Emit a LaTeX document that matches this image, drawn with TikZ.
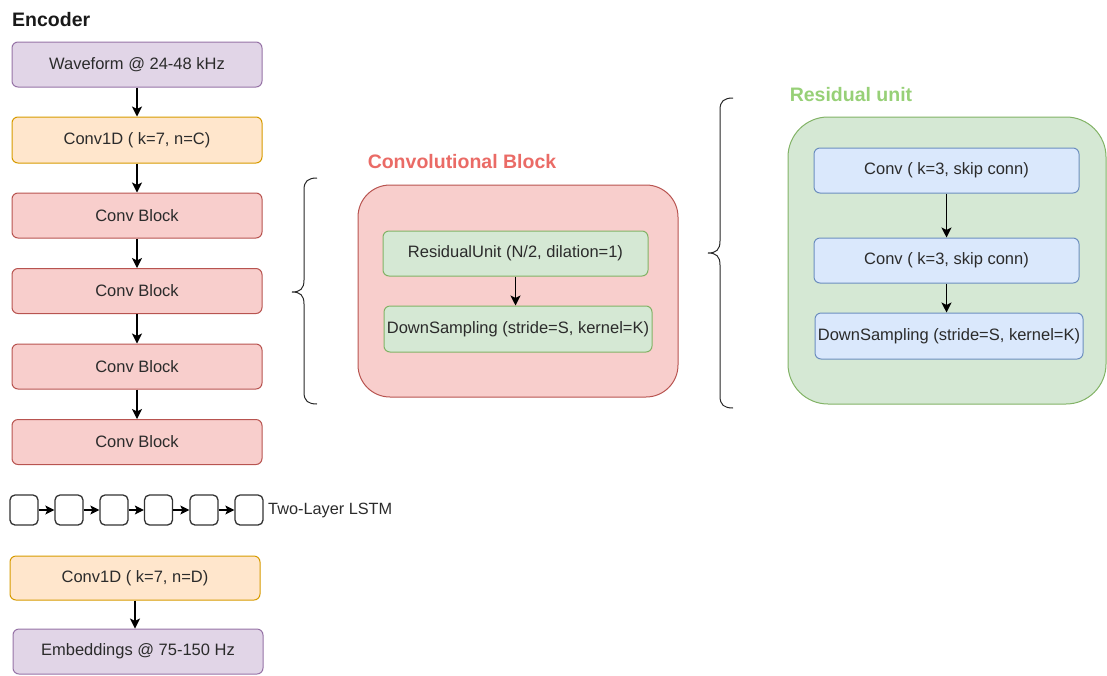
\documentclass[tikz,border=0pt]{standalone}
\usepackage{fontspec}
\setmainfont{Liberation Sans}
\usetikzlibrary{arrows.meta}
\definecolor{txt}{HTML}{2B2B2B}
\definecolor{purpleF}{HTML}{E1D5E7}\definecolor{purpleD}{HTML}{9673A6}
\definecolor{orangeF}{HTML}{FFE6CC}\definecolor{orangeD}{HTML}{D79B00}
\definecolor{redF}{HTML}{F8CECC}\definecolor{redD}{HTML}{B85450}
\definecolor{greenF}{HTML}{D5E8D4}\definecolor{greenD}{HTML}{82B366}
\definecolor{blueF}{HTML}{DAE8FC}\definecolor{blueD}{HTML}{6C8EBF}
\definecolor{redT}{HTML}{EA6B66}\definecolor{greenT}{HTML}{97D077}
\tikzset{
  box/.style={draw, line width=1pt, rounded corners=6pt, inner sep=0pt, align=center,
    text=txt, font=\fontsize{16.5}{19.8}\selectfont},
  purplebox/.style={box, fill=purpleF, draw=purpleD},
  orangebox/.style={box, fill=orangeF, draw=orangeD},
  redbox/.style={box, fill=redF, draw=redD},
  greenbox/.style={box, fill=greenF, draw=greenD},
  bluebox/.style={box, fill=blueF, draw=blueD},
  cell/.style={draw=black!80, line width=1.3pt, rounded corners=5pt, minimum width=28pt, minimum height=30pt, inner sep=0pt},
  arr/.style={-{Stealth[length=10pt,width=10pt,inset=2.5pt]}, line width=1.2pt, black},
  heading/.style={font=\bfseries\fontsize{19.5}{23}\selectfont, inner sep=0pt},
  brace/.style={line width=1pt, black!85},
}
\begin{document}
\begin{tikzpicture}[x=1pt,y=-1pt]
\useasboundingbox (0,0) rectangle (1107,675);

% encoder column
\node[heading, anchor=west, text=black!90] (enc) at (12,20) {Encoder};
\node[purplebox, minimum width=250pt, minimum height=45pt] (wave) at (137,64.5) {Waveform @ 24-48 kHz};
\node[orangebox, minimum width=250pt, minimum height=46pt] (c1) at (137,140) {Conv1D ( k=7, n=C)};
\node[redbox, minimum width=250pt, minimum height=45pt] (b1) at (137,215.5) {Conv Block};
\node[redbox, minimum width=250pt, minimum height=45pt] (b2) at (137,291) {Conv Block};
\node[redbox, minimum width=250pt, minimum height=45pt] (b3) at (137,366.5) {Conv Block};
\node[redbox, minimum width=250pt, minimum height=45pt] (b4) at (137,442) {Conv Block};
\draw[arr] (wave) -- (c1);
\draw[arr] (c1) -- (b1);
\draw[arr] (b1) -- (b2);
\draw[arr] (b2) -- (b3);
\draw[arr] (b3) -- (b4);

% LSTM chain
\foreach \i/\x in {1/24,2/69,3/114,4/158.5,5/204,6/249}
  \node[cell] (l\i) at (\x,510) {};
\foreach \i/\j in {1/2,2/3,3/4,4/5,5/6}
  \draw[arr, -{Stealth[length=9pt,width=9pt,inset=2pt]}] (l\i) -- (l\j);
\node[anchor=west, inner sep=0pt, text=txt, font=\fontsize{16.3}{19.5}\selectfont] (lstm) at (268,510) {Two-Layer LSTM};

\node[orangebox, minimum width=250pt, minimum height=44pt] (c2) at (135,578) {Conv1D ( k=7, n=D)};
\node[purplebox, minimum width=250pt, minimum height=45pt] (emb) at (138,651.5) {Embeddings @ 75-150 Hz};
\draw[arr] (c2.south) -- (c2.south |- emb.north);

% convolutional block detail
\draw[brace] (317,178) .. controls (308,178) and (304,181) .. (304,190) -- (304,280)
  .. controls (304,289) and (300,292) .. (292,292)
  .. controls (300,292) and (304,295) .. (304,304) -- (304,392)
  .. controls (304,401) and (308,404) .. (317,404);
\node[heading, text=redT] (cbt) at (462,162) {Convolutional Block};
\node[redbox, rounded corners=32pt, minimum width=320pt, minimum height=212pt] (cb) at (518,291) {};
\node[greenbox, minimum width=265pt, minimum height=45pt] (ru) at (515.5,253.5) {ResidualUnit (N/2, dilation=1)};
\node[greenbox, minimum width=268pt, minimum height=46pt] (ds1) at (518,329) {DownSampling (stride=S, kernel=K)};
\draw[arr] (ru.south) -- (ru.south |- ds1.north);

% residual unit detail
\draw[brace] (733,98) .. controls (724,98) and (720,101) .. (720,110) -- (720,241)
  .. controls (720,250) and (716,253) .. (708,253)
  .. controls (716,253) and (720,256) .. (720,265) -- (720,396)
  .. controls (720,405) and (724,408) .. (733,408);
\node[heading, text=greenT] (rut) at (851,95) {Residual unit};
\node[greenbox, rounded corners=40pt, minimum width=318pt, minimum height=287pt] (rub) at (947,260.5) {};
\node[bluebox, minimum width=265pt, minimum height=45pt] (ca) at (946.5,170.5) {Conv ( k=3, skip conn)};
\node[bluebox, minimum width=265pt, minimum height=45pt] (cbx) at (946.5,260.5) {Conv ( k=3, skip conn)};
\node[bluebox, minimum width=268pt, minimum height=46pt] (ds2) at (949,336) {DownSampling (stride=S, kernel=K)};
\draw[arr, line width=1.6pt] (ca.south) -- (ca.south |- cbx.north);
\draw[arr] (cbx.south) -- (cbx.south |- ds2.north);
\end{tikzpicture}
\end{document}
